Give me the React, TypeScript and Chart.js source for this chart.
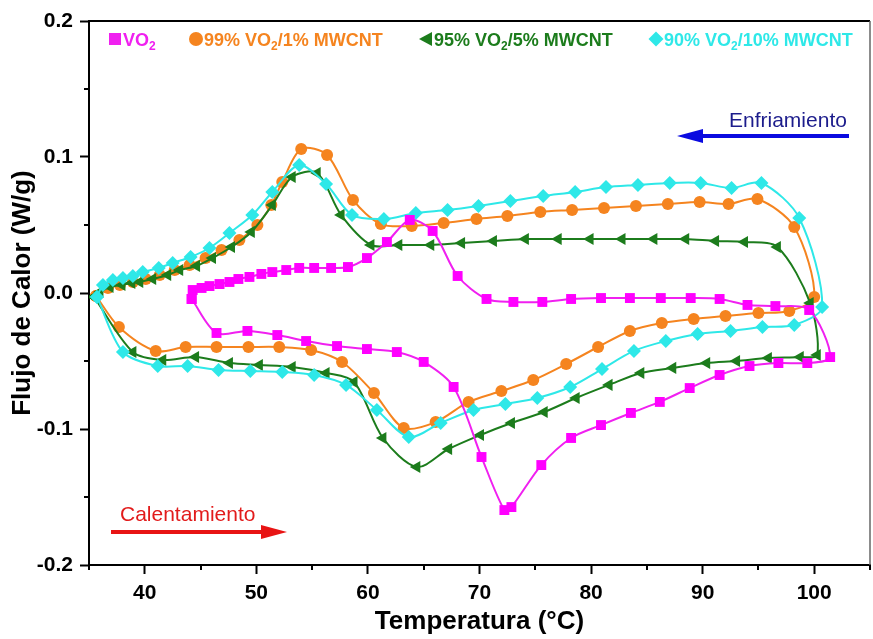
import { useEffect, useRef } from "react";
import { Chart, registerables } from "chart.js";

Chart.register(...registerables);

// Axis ticks
const xTicks = [40, 50, 60, 70, 80, 90, 100];
const yTicks = [-0.2, -0.1, 0, 0.1, 0.2];
const xMinor = [35, 45, 55, 65, 75, 85, 95, 105];
const yMinor = [-0.15, -0.05, 0.05, 0.15];

// VO2: heating branch, then cooling branch (temperature °C, heat flow W/g)
const vo2Temp = [
  44.2, 46.43, 49.2, 51.88, 54.46, 57.23, 59.91, 62.59, 65.0, 67.68, 70.18, 72.23, 72.86, 75.54,
  78.21, 80.89, 83.57, 86.16, 88.84, 91.52, 94.2, 96.79, 99.38, 101.43,
  99.55, 96.52, 94.02, 91.52, 88.93, 86.25, 83.48, 80.89, 78.21, 75.63, 73.04, 70.63, 68.04,
  65.8, 63.75, 61.7, 59.91, 58.21, 56.7, 55.18, 53.84, 52.68, 51.43, 50.45, 49.38, 48.39,
  47.59, 46.7, 45.8, 45.09, 44.29, 44.2,
];
const vo2Flow = [
  -0.0044, -0.0294, -0.0279, -0.0309, -0.0353, -0.039, -0.0412, -0.0434, -0.0507, -0.0691,
  -0.1206, -0.1596, -0.1574, -0.1265, -0.1066, -0.0971, -0.0882, -0.0801, -0.0699, -0.0603,
  -0.0537, -0.0515, -0.0515, -0.0471,
  -0.0125, -0.0096, -0.0088, -0.0044, -0.0037, -0.0037, -0.0037, -0.0037, -0.0044, -0.0066,
  -0.0066, -0.0044, 0.0125, 0.0456, 0.0537, 0.0375, 0.0257, 0.0191, 0.0184, 0.0184, 0.0184,
  0.0169, 0.0154, 0.014, 0.0118, 0.0103, 0.0081, 0.0066, 0.0051, 0.0037, 0.0022, -0.0044,
];

// 99% VO2 / 1% MWCNT
const mw1Temp = [
  35.63, 36.7, 37.77, 38.93, 40.09, 41.34, 42.68, 44.02, 45.45, 46.88, 48.48, 50.09, 51.34,
  52.32, 54.02, 56.34, 58.66, 61.16, 63.93, 66.79, 69.73, 72.5, 75.45, 78.3, 81.16, 84.02,
  86.88, 89.73, 92.32, 94.91, 98.21, 100.0,
  97.77, 95.0, 92.05, 89.2, 86.34, 83.48, 80.63, 77.77, 74.82, 71.96, 69.02, 66.07, 63.21,
  60.54, 57.68, 54.91, 52.05, 49.29, 46.43, 43.66, 40.98, 37.68, 35.63,
];
const mw1Flow = [
  -0.0022, 0.0037, 0.0059, 0.0081, 0.0103, 0.0132, 0.0169, 0.0206, 0.0257, 0.0316, 0.039,
  0.05, 0.0647, 0.0816, 0.1059, 0.1015, 0.0684, 0.0507, 0.0493, 0.0515, 0.0544, 0.0566,
  0.0596, 0.061, 0.0625, 0.064, 0.0654, 0.0669, 0.0654, 0.0691, 0.0485, -0.0029,
  -0.0132, -0.0147, -0.0169, -0.0191, -0.0221, -0.0279, -0.0397, -0.0522, -0.064, -0.0721,
  -0.0801, -0.0949, -0.0993, -0.0735, -0.0507, -0.0419, -0.0397, -0.0397, -0.0397, -0.0397,
  -0.0426, -0.025, -0.0022,
];

// 95% VO2 / 5% MWCNT
const mw5Temp = [
  35.45, 35.98, 36.88, 37.95, 38.84, 39.55, 40.71, 42.05, 43.13, 44.64, 46.07, 47.77, 49.55,
  51.43, 53.21, 55.45, 57.59, 60.27, 62.77, 65.63, 68.39, 71.25, 74.11, 77.05, 79.91, 82.77,
  85.63, 88.48, 91.16, 93.75, 96.7, 99.64, 100.27,
  98.75, 95.89, 93.04, 90.36, 87.32, 84.46, 81.61, 78.66, 75.8, 72.86, 70.09, 67.23, 64.38,
  61.34, 58.75, 56.25, 53.21, 50.27, 47.59, 44.55, 41.61, 38.93, 35.45,
];
const mw5Flow = [
  -0.0029, 0.0007, 0.0044, 0.0059, 0.0074, 0.0081, 0.0103, 0.0132, 0.0169, 0.0199, 0.0257,
  0.0338, 0.0449, 0.0647, 0.0853, 0.0882, 0.0574, 0.0353, 0.0353, 0.0353, 0.0368, 0.0382,
  0.0397, 0.0397, 0.0397, 0.0397, 0.0397, 0.0397, 0.0382, 0.0375, 0.0338, -0.0074, -0.0456,
  -0.0471, -0.0478, -0.05, -0.0515, -0.0551, -0.0588, -0.0676, -0.0772, -0.0875, -0.0956,
  -0.1044, -0.1147, -0.1279, -0.1066, -0.0654, -0.0588, -0.0544, -0.0529, -0.0515, -0.0471,
  -0.0493, -0.0434, -0.0029,
];

// 90% VO2 / 10% MWCNT
const mw10Temp = [
  35.71, 36.25, 37.14, 38.04, 38.93, 39.82, 41.25, 42.5, 44.11, 45.8, 47.59, 49.64, 51.43,
  53.84, 56.25, 58.57, 61.43, 64.29, 67.14, 69.91, 72.77, 75.71, 78.57, 81.34, 84.2, 87.05,
  89.82, 92.59, 95.27, 98.66, 100.71,
  98.21, 95.36, 92.5, 89.55, 86.7, 83.84, 80.98, 78.13, 75.18, 72.32, 69.46, 66.52, 63.66,
  60.8, 58.04, 55.18, 52.32, 49.46, 46.61, 43.84, 41.16, 38.04, 35.71,
];
const mw10Flow = [
  -0.0029, 0.0059, 0.0096, 0.011, 0.0125, 0.0154, 0.0184, 0.0221, 0.0265, 0.0331, 0.0441,
  0.0574, 0.0743, 0.0941, 0.0801, 0.0574, 0.0544, 0.0588, 0.061, 0.064, 0.0676, 0.0713,
  0.0743, 0.0779, 0.0794, 0.0809, 0.0809, 0.0772, 0.0809, 0.0551, -0.0103,
  -0.0235, -0.025, -0.0279, -0.0301, -0.0353, -0.0426, -0.0559, -0.0691, -0.0772, -0.0816,
  -0.086, -0.0956, -0.1059, -0.086, -0.0676, -0.0603, -0.0581, -0.0574, -0.0566, -0.0537,
  -0.0537, -0.0434, -0.0029,
];

const FONT = "'Liberation Sans', Arial, Helvetica, sans-serif";
const C_MAG = "#f020f0";
const C_ORG = "#f5841f";
const C_GRN = "#1c7c1c";
const C_CYN = "#2ee8e8";

const zip = (xs: number[], ys: number[]) => xs.map((x, i) => ({ x, y: ys[i] }));

// Legend entries: marker style, colour, text before subscript, subscript, text after
const legendItems = [
  { style: "rect", color: C_MAG, pre: "VO", sub: "2", post: "" },
  { style: "circle", color: C_ORG, pre: "99% VO", sub: "2", post: "/1% MWCNT" },
  { style: "triangle", color: C_GRN, pre: "95% VO", sub: "2", post: "/5% MWCNT" },
  { style: "diamond", color: C_CYN, pre: "90% VO", sub: "2", post: "/10% MWCNT" },
];
const legendX = [19, 100, 330, 560];

function drawMarker(ctx: CanvasRenderingContext2D, style: string, cx: number, cy: number, color: string) {
  ctx.fillStyle = color;
  ctx.beginPath();
  if (style === "rect") {
    ctx.rect(cx - 6, cy - 6, 12, 12);
  } else if (style === "circle") {
    ctx.arc(cx, cy, 7, 0, Math.PI * 2);
  } else if (style === "triangle") {
    ctx.moveTo(cx - 7, cy);
    ctx.lineTo(cx + 6, cy - 7);
    ctx.lineTo(cx + 6, cy + 7);
    ctx.closePath();
  } else {
    ctx.moveTo(cx, cy - 7.5);
    ctx.lineTo(cx + 7.5, cy);
    ctx.lineTo(cx, cy + 7.5);
    ctx.lineTo(cx - 7.5, cy);
    ctx.closePath();
  }
  ctx.fill();
}

function drawArrow(ctx: CanvasRenderingContext2D, x0: number, x1: number, y: number, color: string) {
  const dir = Math.sign(x1 - x0);
  const headLen = 26;
  ctx.strokeStyle = color;
  ctx.fillStyle = color;
  ctx.lineWidth = 4;
  ctx.beginPath();
  ctx.moveTo(x0, y);
  ctx.lineTo(x1 - dir * headLen, y);
  ctx.stroke();
  ctx.beginPath();
  ctx.moveTo(x1, y);
  ctx.lineTo(x1 - dir * headLen, y - 7);
  ctx.lineTo(x1 - dir * headLen, y + 7);
  ctx.closePath();
  ctx.fill();
}

const decorPlugin = {
  id: "decor",
  afterDraw(chart: any) {
    const { ctx, chartArea: a, scales } = chart;
    const xs = scales.x;
    const ys = scales.y;
    ctx.save();
    // frame on top and right
    ctx.strokeStyle = "#000";
    ctx.lineWidth = 2;
    ctx.beginPath();
    ctx.moveTo(a.left - 1, a.top);
    ctx.lineTo(a.right, a.top);
    ctx.stroke();
    ctx.strokeStyle = "#666";
    ctx.lineWidth = 1.5;
    ctx.beginPath();
    ctx.moveTo(a.right, a.top);
    ctx.lineTo(a.right, a.bottom);
    ctx.stroke();
    // minor ticks
    ctx.strokeStyle = "#000";
    ctx.lineWidth = 2;
    ctx.beginPath();
    xMinor.forEach((v) => {
      const p = Math.round(xs.getPixelForValue(v));
      ctx.moveTo(p, a.bottom);
      ctx.lineTo(p, a.bottom + 5);
    });
    yMinor.forEach((v) => {
      const p = Math.round(ys.getPixelForValue(v));
      ctx.moveTo(a.left, p);
      ctx.lineTo(a.left - 5, p);
    });
    ctx.stroke();

    // legend
    const ly = a.top + 18;
    legendItems.forEach((it, i) => {
      const x0 = a.left + legendX[i];
      drawMarker(ctx, it.style, x0 + 7, ly, it.color);
      let tx = x0 + 15;
      ctx.fillStyle = it.color;
      ctx.textBaseline = "alphabetic";
      ctx.textAlign = "left";
      ctx.font = `bold 18px ${FONT}`;
      ctx.fillText(it.pre, tx, ly + 6.5);
      tx += ctx.measureText(it.pre).width;
      ctx.font = `bold 12px ${FONT}`;
      ctx.fillText(it.sub, tx, ly + 11);
      tx += ctx.measureText(it.sub).width;
      ctx.font = `bold 18px ${FONT}`;
      ctx.fillText(it.post, tx, ly + 6.5);
    });

    // direction annotations
    ctx.font = `21px ${FONT}`;
    ctx.textAlign = "left";
    ctx.textBaseline = "alphabetic";
    ctx.fillStyle = "#1c1c8c";
    ctx.fillText("Enfriamiento", 729, 127);
    drawArrow(ctx, 849, 677, 136, "#0a0ae0");
    ctx.fillStyle = "#e21b1b";
    ctx.fillText("Calentamiento", 120, 521);
    drawArrow(ctx, 111, 287, 532, "#e81414");
    ctx.restore();
  },
};

export default function App() {
  const canvasRef = useRef<HTMLCanvasElement>(null);

  useEffect(() => {
    const canvas = canvasRef.current;
    if (!canvas) return;
    const common = { showLine: true, borderWidth: 2, tension: 0.3, pointBorderWidth: 0 };
    const chart = new Chart(canvas, {
      type: "scatter",
      data: {
        datasets: [
          {
            ...common,
            label: "VO2",
            data: zip(vo2Temp, vo2Flow),
            borderColor: C_MAG,
            backgroundColor: "#ff00ff",
            pointStyle: "rect",
            pointRadius: 7,
            order: 0,
          },
          {
            ...common,
            label: "90% VO2/10% MWCNT",
            data: zip(mw10Temp, mw10Flow),
            borderColor: C_CYN,
            backgroundColor: C_CYN,
            pointStyle: "rectRot",
            pointRadius: 7,
            order: 1,
          },
          {
            ...common,
            label: "95% VO2/5% MWCNT",
            data: zip(mw5Temp, mw5Flow),
            borderColor: C_GRN,
            backgroundColor: C_GRN,
            pointStyle: "triangle",
            pointRotation: -90,
            pointRadius: 7,
            order: 2,
          },
          {
            ...common,
            label: "99% VO2/1% MWCNT",
            data: zip(mw1Temp, mw1Flow),
            borderColor: C_ORG,
            backgroundColor: C_ORG,
            pointStyle: "circle",
            pointRadius: 6,
            order: 3,
          },
        ],
      },
      options: {
        animation: false,
        responsive: true,
        maintainAspectRatio: false,
        layout: { padding: { top: 21, right: 0, left: 0, bottom: 0 } },
        plugins: { legend: { display: false }, tooltip: { enabled: false } },
        scales: {
          x: {
            type: "linear",
            min: 35,
            max: 105,
            afterBuildTicks: (s: any) => {
              s.ticks = xTicks.map((value) => ({ value }));
            },
            afterFit: (s: any) => {
              s.height = 74;
              s.paddingLeft = 0;
              s.paddingRight = 0;
            },
            grid: { drawOnChartArea: false, drawTicks: true, tickLength: 9, tickWidth: 2, tickColor: "#000" },
            border: { display: true, color: "#000", width: 2 },
            ticks: { color: "#000", padding: 7, font: { family: FONT, size: 21, weight: "bold" } },
            title: {
              display: true,
              text: "Temperatura (°C)",
              color: "#000",
              padding: { top: 0, bottom: 2 },
              font: { family: FONT, size: 26, weight: "bold" },
            },
          },
          y: {
            type: "linear",
            min: -0.2,
            max: 0.2,
            afterBuildTicks: (s: any) => {
              s.ticks = yTicks.map((value) => ({ value }));
            },
            afterFit: (s: any) => {
              s.width = 89;
              s.paddingTop = 0;
              s.paddingBottom = 0;
            },
            grid: { drawOnChartArea: false, drawTicks: true, tickLength: 9, tickWidth: 2, tickColor: "#000" },
            border: { display: true, color: "#000", width: 2 },
            ticks: {
              color: "#000",
              padding: 7,
              font: { family: FONT, size: 21, weight: "bold" },
              callback: (v: any) => Number(v).toFixed(1),
            },
            title: {
              display: true,
              text: "Flujo de Calor (W/g)",
              color: "#000",
              padding: { top: 7, bottom: 0 },
              font: { family: FONT, size: 26, weight: "bold" },
            },
          },
        },
      },
      plugins: [decorPlugin],
    });
    return () => chart.destroy();
  }, []);

  // The canvas runs a few pixels past the right edge so the plot frame lands on the page edge
  return (
    <div style={{ position: "fixed", left: 0, top: 0, width: 877, height: 639, background: "#fff" }}>
      <canvas ref={canvasRef} />
    </div>
  );
}
